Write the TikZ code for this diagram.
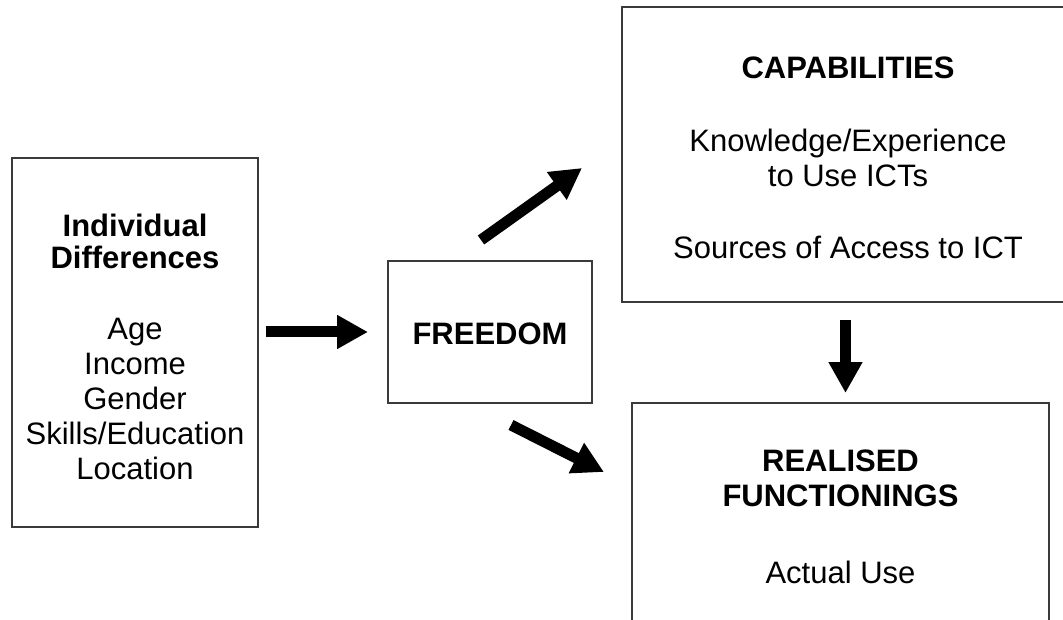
\documentclass[tikz,border=0pt]{standalone}
\usepackage{fontspec}
\setmainfont{Liberation Sans}
\usetikzlibrary{arrows.meta}
\definecolor{frame}{HTML}{3A3A3A}
\begin{document}
\begin{tikzpicture}[x=1pt,y=-1pt,
  box/.style={draw=frame,line width=1.6pt,rectangle,align=center,inner sep=0pt,
    font=\fontsize{31}{35}\selectfont},
  blockarrow/.style={line width=11pt,draw=black,
    -{Triangle[length=31pt,width=32pt]}}]
  \clip (0,0) rectangle (1063,620);
  \fill[white] (0,0) rectangle (1063,620);

  % the four boxes
  \node[box,minimum width=246,minimum height=369] (ind) at (135,342.5)
    {\textbf{Individual}\rule{0pt}{31pt}\\[-3pt]\textbf{Differences}\\[36pt]Age\\Income\\Gender\\Skills/Education\\Location};
  \node[box,minimum width=204,minimum height=142] (free) at (490,332)
    {\rule{0pt}{26pt}\textbf{FREEDOM}};
  \node[box,minimum width=452,minimum height=295] (cap) at (848,154.5)
    {\textbf{CAPABILITIES}\rule{0pt}{28pt}\\[38pt]Knowledge/Experience\\to Use ICTs\\[37pt]Sources of Access to ICT};
  \node[box,minimum width=417,minimum height=228] (real) at (840.5,517)
    {\textbf{REALISED}\\\textbf{FUNCTIONINGS}\\[42pt]Actual Use};

  % arrow end points
  \coordinate (a1s) at (266,332);
  \coordinate (a1e) at (368,332);
  \coordinate (a2s) at (481,240);
  \coordinate (a2e) at (582,168);
  \coordinate (a3s) at (511,425);
  \coordinate (a3e) at (604,472);
  \coordinate (a4s) at (845.5,320);
  \coordinate (a4e) at (845.5,393);

  \draw[blockarrow] (a1s) -- (a1e);
  \draw[blockarrow] (a2s) -- (a2e);
  \draw[blockarrow] (a3s) -- (a3e);
  \draw[blockarrow] (a4s) -- (a4e);
\end{tikzpicture}
\end{document}
